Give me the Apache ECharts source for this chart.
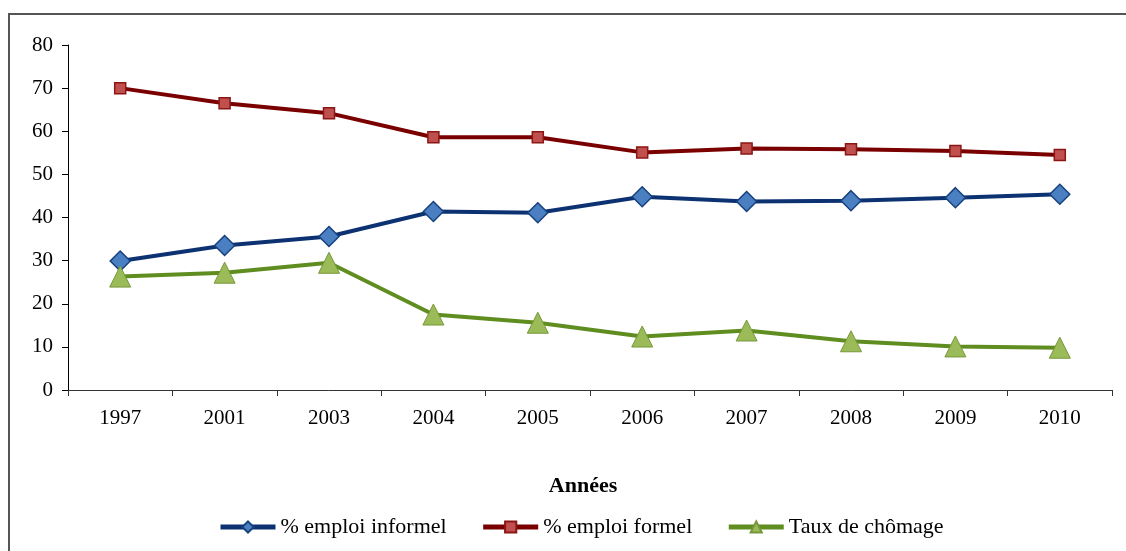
<!DOCTYPE html>
<html>
<head>
<meta charset="utf-8">
<script src="https://cdn.jsdelivr.net/npm/echarts@6/dist/echarts.min.js"></script>
<style>
  html, body { margin: 0; padding: 0; background: #ffffff; }
  #chart { width: 1126px; height: 551px; }
</style>
</head>
<body>
<div id="chart"></div>
<script>
// data
const years = ['1997', '2001', '2003', '2004', '2005', '2006', '2007', '2008', '2009', '2010']
const emploiInformel = [29.9, 33.5, 35.6, 41.4, 41.1, 44.8, 43.7, 43.9, 44.6, 45.4]
const emploiFormel = [70.0, 66.5, 64.2, 58.6, 58.6, 55.1, 56.0, 55.8, 55.4, 54.5]
const tauxChomage = [26.3, 27.2, 29.5, 17.5, 15.6, 12.4, 13.8, 11.3, 10.1, 9.8]

const serif = '"Liberation Serif", "DejaVu Serif", serif'

const chart = echarts.init(document.getElementById('chart'))

chart.setOption({
  backgroundColor: '#ffffff',
  animation: false,
  title: {
    text: 'Années',
    left: 578,
    top: 470,
    textAlign: 'center',
    textStyle: {
      fontFamily: serif,
      fontWeight: 'bold',
      fontSize: 22,
      color: '#000000'
    }
  },
  graphic: [{
    // cadre de la figure
    type: 'polyline',
    shape: { points: [[9, 560], [9, 14], [1140, 14]] },
    style: { stroke: '#555555', lineWidth: 2, fill: null }
  }],
  legend: {
    left: 213,
    top: 511,
    itemWidth: 55,
    itemHeight: 14,
    itemGap: 34,
    lineStyle: { width: 5 },
    textStyle: {
      fontFamily: serif,
      fontSize: 22,
      color: '#000000'
    },
    data: ['% emploi informel', '% emploi formel', 'Taux de chômage']
  },
  grid: { // zone du tracé
    left: 68,
    right: 14,
    top: 45,
    bottom: 161
  },
  xAxis: {
    type: 'category',
    boundaryGap: true,
    data: years,
    axisLine: { lineStyle: { color: '#333333', width: 1 } },
    axisTick: { show: true, length: 6, lineStyle: { color: '#333333' } },
    axisLabel: {
      margin: 18,
      fontFamily: serif,
      fontSize: 21,
      color: '#000000'
    }
  },
  yAxis: {
    type: 'value',
    min: 0,
    max: 80,
    interval: 10,
    splitLine: { show: false },
    axisLine: { show: true, lineStyle: { color: '#000000', width: 1 } },
    axisTick: { show: true, length: 6, lineStyle: { color: '#000000' } },
    axisLabel: {
      margin: 15,
      fontFamily: serif,
      fontSize: 21,
      color: '#000000'
    }
  },
  series: [
    {
      name: '% emploi informel',
      type: 'line',
      data: emploiInformel,
      symbol: 'diamond',
      symbolSize: [20, 20],
      lineStyle: { color: '#0d3272', width: 4 },
      itemStyle: { color: '#4a7fc1', borderColor: '#17407e', borderWidth: 1.5 }
    },
    {
      name: '% emploi formel',
      type: 'line',
      data: emploiFormel,
      symbol: 'rect',
      symbolSize: 11,
      lineStyle: { color: '#7a0000', width: 4 },
      itemStyle: { color: '#c0504d', borderColor: '#8a1616', borderWidth: 1.5 }
    },
    {
      name: 'Taux de chômage',
      type: 'line',
      data: tauxChomage,
      symbol: 'triangle',
      symbolSize: [21, 21],
      lineStyle: { color: '#5f8d20', width: 4 },
      itemStyle: { color: '#9bbb59', borderColor: '#77983a', borderWidth: 1 }
    }
  ]
})
</script>
</body>
</html>
